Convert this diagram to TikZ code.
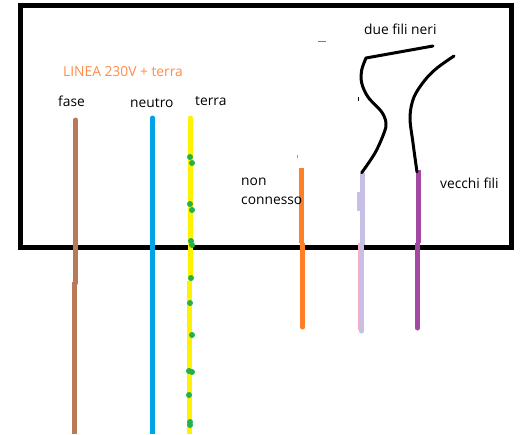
\documentclass[tikz,border=0pt]{standalone}
\usepackage{fontspec}
\setmainfont{Open Sans}
\definecolor{fasec}{HTML}{B97A57}
\definecolor{neutroc}{HTML}{00A2E8}
\definecolor{terrac}{HTML}{FFF200}
\definecolor{dotc}{HTML}{22B14C}
\definecolor{orangec}{HTML}{FF7F27}
\definecolor{lilacc}{HTML}{C8BFE7}
\definecolor{pinkc}{HTML}{FFAEC9}
\definecolor{violetc}{HTML}{A349A4}
\definecolor{labelc}{HTML}{FF8C4A}
\tikzset{
  wire/.style={line width=5pt},
  blackwire/.style={line width=3pt,line cap=round,line join=round},
  lbl/.style={font=\fontsize{13.8}{15}\selectfont,inner sep=0pt,anchor=base west,text=black},
  gdot/.style={fill=dotc,draw=none}
}
\begin{document}
\begin{tikzpicture}[x=1pt,y=-1pt]
\useasboundingbox (0,0) rectangle (527,434);
\fill[white] (0,0) rectangle (527,434);
% wires inside/outside
\draw[wire,fasec,line cap=round] (75.5,120) -- (75.5,283);
\draw[wire,fasec] (74.5,282) -- (74.5,434);
\draw[wire,neutroc,line cap=round] (152.5,118) -- (152.5,300);
\draw[wire,neutroc] (152.5,300) -- (152.5,434);
\draw[wire,terrac,line cap=round] (190.5,118) -- (190.5,279);
\draw[wire,terrac] (189.5,281) -- (189.5,434);
% box
\draw[line width=5pt,black] (20.5,5.5) rectangle (511,247.5);
% wires over the box
\draw[wire,fasec] (75.5,240) -- (75.5,283);
\draw[wire,neutroc] (152.5,240) -- (152.5,255);
\draw[wire,terrac] (190.5,240) -- (190.5,255);
\draw[wire,orangec] (301.5,168) -- (301.5,243);
\draw[wire,orangec] (302.5,243) -- (302.5,327);
\fill[orangec] (302.5,327) circle (2.5pt);
\draw[line width=2pt,pinkc] (359,243) -- (359,330);
\draw[wire,lilacc] (362,173) -- (362,245);
\draw[wire,lilacc] (361.5,245) -- (361.5,331);
\fill[lilacc] (361.5,331) circle (2.5pt);
\fill[lilacc] (357,192) rectangle (361,211);
\draw[wire,violetc] (418.5,170) -- (418.5,243);
\draw[wire,violetc] (417.5,243) -- (417.5,328);
\fill[violetc] (417.5,328) circle (2.5pt);
% black leads
\draw[blackwire] plot[smooth,tension=0.55] coordinates {(361.7,172.7) (375,153) (384,133) (386,123) (381.7,112) (368,97) (361.7,83) (361.7,70) (366,58)} -- (433,46);
\draw[blackwire] plot[smooth,tension=0.55] coordinates {(417,172) (413,143) (410,117) (414,97) (425,80) (437,68) (454,56)};
% specks
\draw[dotc,line width=0.8pt] (318,41) -- (326,41);
\draw[black,line width=0.8pt] (358.5,97) -- (358.5,101);
\draw[orangec,line width=0.8pt] (297.5,155) -- (297.5,158);
% green dots on the earth wire
\foreach \px/\py in {190/157,192/163,190/204,192/210,191/241,192/245,191/278,190/303,192/335,189/371,192/372,189/395,190/422,190/425}
  \fill[gdot] (\px,\py) circle (3pt);
% labels
\node[lbl,text=labelc] (linea) at (63,76) {LINEA 230V + terra};
\node[lbl] (fase) at (58,106) {fase};
\node[lbl] (neutro) at (130,107) {neutro};
\node[lbl] (terra) at (195,105) {terra};
\node[lbl] (non) at (241,185) {non};
\node[lbl] (connesso) at (241,204) {connesso};
\node[lbl] (due) at (364,34) {due fili neri};
\node[lbl] (vecchi) at (440,188) {vecchi fili};
\end{tikzpicture}
\end{document}
